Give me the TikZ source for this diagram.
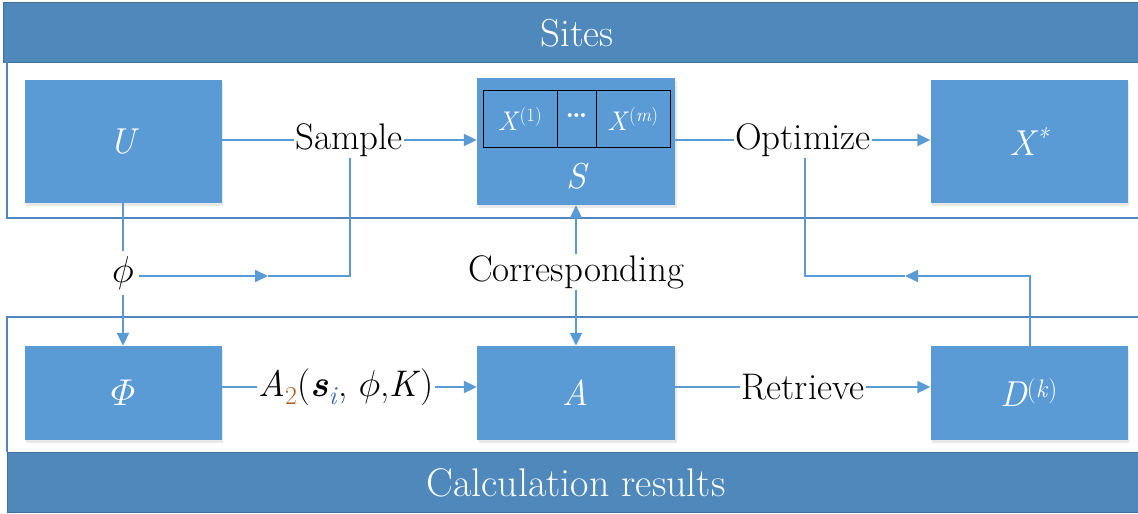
\documentclass[tikz,border=0pt]{standalone}
\usepackage{amsmath}
\usetikzlibrary{arrows.meta,shadows}
\definecolor{boxblue}{HTML}{5B9BD5}
\definecolor{bandblue}{HTML}{4F88BB}
\definecolor{bandedge}{HTML}{41719C}
\definecolor{lineblue}{HTML}{5B9BD5}
\definecolor{panelline}{HTML}{4F86C0}
\definecolor{subor}{HTML}{B0601E}
\definecolor{subbl}{HTML}{2E62B0}
\newcommand{\bigphi}{\scalebox{1.5}{$\phi$}}
\newcommand{\bigPhi}{\scalebox{1.5}{$\varPhi$}}
\tikzset{
  bluebox/.style={fill=boxblue, draw=none, text=white, font=\fontsize{36}{40}\selectfont\itshape,
    minimum width=197pt, inner sep=0pt,
    drop shadow={opacity=0.18, shadow xshift=1.5pt, shadow yshift=-2.5pt}},
  cell/.style={draw=black, line width=0.9pt, text=white, minimum height=57pt, inner sep=0pt,
    font=\fontsize{27}{30}\selectfont},
  lbl/.style={inner sep=1pt, font=\fontsize{37}{40}\selectfont},
  conn/.style={draw=lineblue, line width=2pt},
  tip/.style={-{Triangle[length=13pt,width=12pt]}},
  band/.style={fill=bandblue, draw=bandedge, line width=0.8pt},
  panel/.style={draw=panelline, line width=1.2pt}
}
\begin{document}
\begin{tikzpicture}[x=1pt,y=-1pt]
\useasboundingbox (0,0) rectangle (1138,514);
% bands
\fill[white] (0,0) rectangle (1138,514);
\draw[band] (3,2) rectangle (1140,62);
\node[text=white, font=\fontsize{39}{42}\selectfont] (sites) at (577,33) {Sites};
\draw[band] (7,452) rectangle (1140,512);
\node[text=white, font=\fontsize{40}{42}\selectfont] (calc) at (576,483) {Calculation results};
% panels
\draw[panel] (7,62) -- (7,218) -- (1140,218);
\draw[panel] (1140,317) -- (7,317) -- (7,452);
% boxes
\node[bluebox, minimum height=123pt] (U) at (123,141.5) {U};
\node[bluebox, minimum width=198pt, minimum height=127pt] (S) at (576,141.5) {};
\node[bluebox, minimum height=123pt] (X) at (1029,141.5) {X\textsuperscript{*}};
\node[bluebox, minimum height=94pt] (Phi) at (123,393) {\bigPhi};
\node[bluebox, minimum width=198pt, minimum height=94pt] (A) at (576,393) {A};
\node[bluebox, minimum height=94pt] (D) at (1029,393) {D\textsuperscript{\upshape(\textit{k})}};
% inside S
\node[cell, minimum width=74pt] (x1) at (520,118.5) {\textit{X}\textsuperscript{(1)}};
\node[cell, minimum width=39pt] (dots) at (576.5,118.5) {\raisebox{5pt}{\textbf{\ldots}}};
\node[cell, minimum width=74pt] (xm) at (633,118.5) {\textit{X}\textsuperscript{(\textit{m})}};
\node[text=white, font=\fontsize{36}{40}\selectfont\itshape] (slbl) at (576,176) {S};
% labels
\node[lbl] (sample) at (349,140) {Sample};
\node[lbl] (opt) at (803,140) {Optimize};
\node[lbl] (corr) at (576,272) {Corresponding};
\node[lbl] (retr) at (803,387) {Retrieve};
\node[lbl] (a2) at (346,387) {\textit{A}\textsubscript{\color{subor}2}(\textbf{\textit{s}}\textsubscript{\color{subbl}\textit{i}},\ \bigphi,\textit{K})};
\node[lbl, inner sep=5pt] (phi) at (123,273) {\bigphi};
% coordinates
\coordinate (c1) at (350,276);
\coordinate (m1) at (268,276);
\coordinate (c2) at (1030,276);
\coordinate (m2) at (905,276);
\coordinate (c3) at (805,276);
% connectors
\draw[conn] (sample.west -| U.east) -- (sample.west);
\draw[conn, tip] (sample.east) -- (sample.east -| S.west);
\draw[conn] (opt.west -| S.east) -- (opt.west);
\draw[conn, tip] (opt.east) -- (opt.east -| X.west);
\draw[conn] (a2.west -| Phi.east) -- (a2.west);
\draw[conn, tip] (a2.east) -- (a2.east -| A.west);
\draw[conn] (retr.west -| A.east) -- (retr.west);
\draw[conn, tip] (retr.east) -- (retr.east -| D.west);
\draw[conn] (U.south) -- (phi.north);
\draw[conn, tip] (phi.south) -- (Phi.north);
\draw[conn, tip] (phi.east |- m1) -- (m1);
\draw[conn] (m1) -- (c1) -- (c1 |- sample.south);
\draw[conn, tip] (corr.north) -- (S.south);
\draw[conn, tip] (corr.south) -- (A.north);
\draw[conn, tip] (D.north -| c2) -- (c2) -- (m2);
\draw[conn] (m2) -- (c3) -- (c3 |- opt.south);
\end{tikzpicture}
\end{document}
